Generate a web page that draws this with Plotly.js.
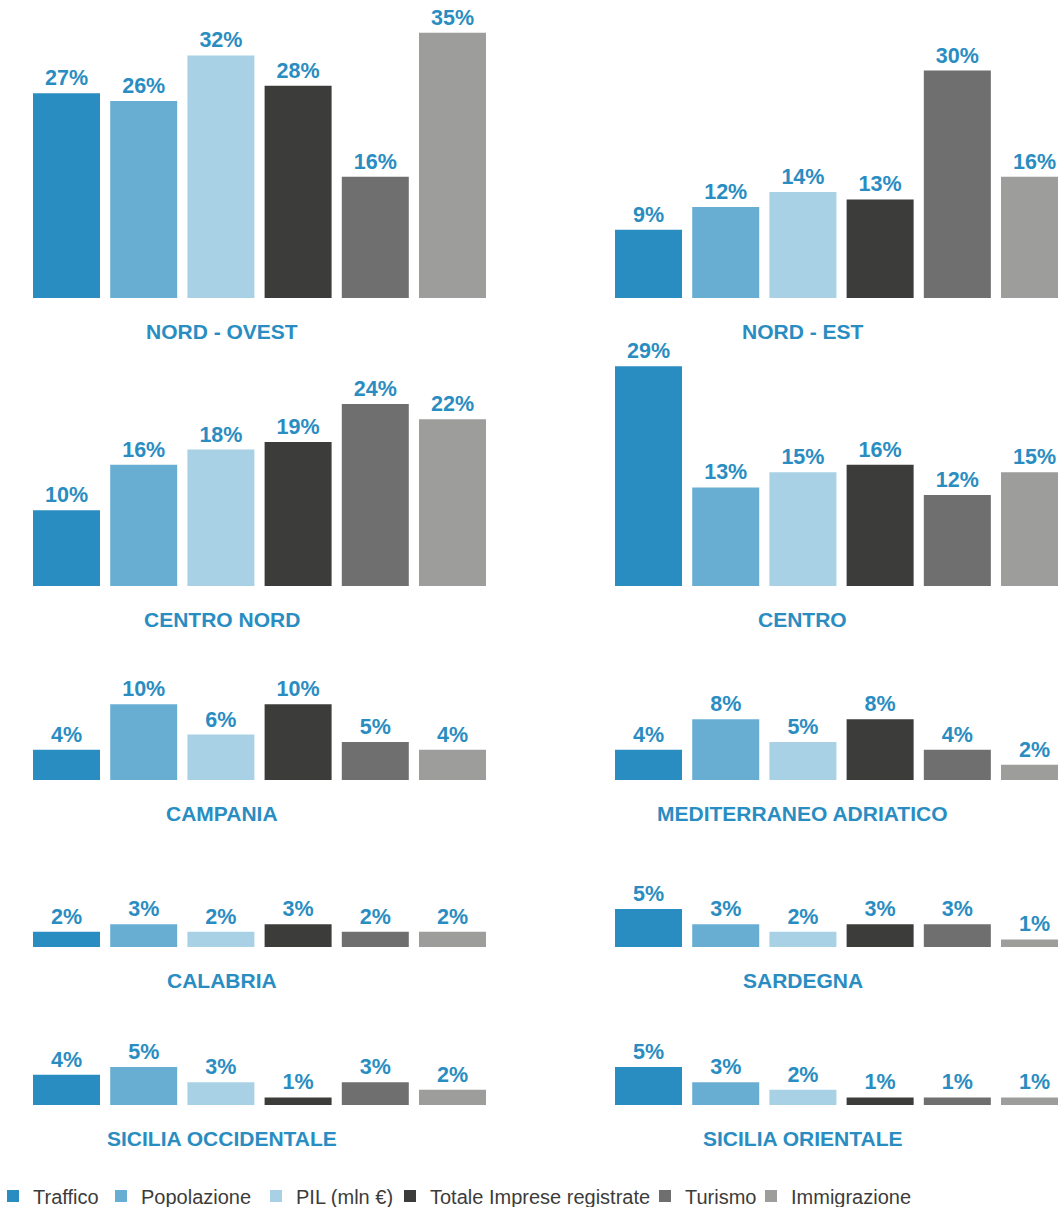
<!DOCTYPE html>
<html>
<head>
<meta charset="utf-8">
<script src="https://cdn.plot.ly/plotly-3.0.1.min.js"></script>
<style>html,body{margin:0;padding:0;background:#fff}#chart{width:1058px;height:1207px}</style>
</head>
<body>
<div id="chart"></div>
<script>
// ---- DATA ----
const series = ["Traffico", "Popolazione", "PIL (mln €)", "Totale Imprese registrate", "Turismo", "Immigrazione"];
const regions = ["NORD - OVEST", "NORD - EST", "CENTRO NORD", "CENTRO", "CAMPANIA", "MEDITERRANEO ADRIATICO", "CALABRIA", "SARDEGNA", "SICILIA OCCIDENTALE", "SICILIA ORIENTALE"];
const nordOvest = [27, 26, 32, 28, 16, 35];
const nordEst = [9, 12, 14, 13, 30, 16];
const centroNord = [10, 16, 18, 19, 24, 22];
const centro = [29, 13, 15, 16, 12, 15];
const campania = [4, 10, 6, 10, 5, 4];
const mediterraneoAdriatico = [4, 8, 5, 8, 4, 2];
const calabria = [2, 3, 2, 3, 2, 2];
const sardegna = [5, 3, 2, 3, 3, 1];
const siciliaOccidentale = [4, 5, 3, 1, 3, 2];
const siciliaOrientale = [5, 3, 2, 1, 1, 1];
const regionValues = [nordOvest, nordEst, centroNord, centro, campania, mediterraneoAdriatico, calabria, sardegna, siciliaOccidentale, siciliaOrientale];

// ---- STYLE ----
const colors = ["#2a8dc2", "#68aed3", "#a9d1e5", "#3c3c3b", "#6f6f6f", "#9d9d9c"];
const blue = "#2a8dc2";
const W = 1058, H = 1207;
const pxPerUnit = 7.58;
const fontFam = "Liberation Sans, Arial, sans-serif";
// row baselines and tops in pixels
const rows = [
  {base: 298, top: 0},
  {base: 586, top: 340},
  {base: 780, top: 640},
  {base: 947, top: 830},
  {base: 1105, top: 1000}
];
const cols = [
  {x0: 27.9, x1: 491.1, r1: 5.5},
  {x0: 609.9, x1: 1058, r1: 5.304}
];
const titleCenters = [221.5, 802.5];
// legend item left positions (pixels)
const legendX = [-7, 101, 256, 390, 645, 751];

const traces = [];
const layout = {
  width: W, height: H,
  margin: {l: 0, r: 0, t: 0, b: 0, autoexpand: false},
  paper_bgcolor: "#fff", plot_bgcolor: "#fff",
  barmode: "overlay",
  showlegend: true,
  hovermode: false,
  font: {family: fontFam},
  annotations: []
};
series.forEach((s, k) => {
  const key = k === 0 ? "legend" : "legend" + (k + 1);
  layout[key] = {
    orientation: "h", x: legendX[k] / W, xanchor: "left",
    y: 1 - 1196 / H, yanchor: "middle",
    font: {size: 20, color: "#3c3c3b", family: fontFam},
    bgcolor: "rgba(0,0,0,0)", borderwidth: 0
  };
});

regionValues.forEach((vals, i) => {
  const r = Math.floor(i / 2), c = i % 2;
  const n = i + 1;
  const suf = n === 1 ? "" : String(n);
  const row = rows[r], col = cols[c];
  layout["xaxis" + suf] = {
    domain: [col.x0 / W, col.x1 / W],
    range: [-0.5, col.r1],
    type: "category", categoryarray: series, categoryorder: "array",
    visible: false, anchor: "y" + suf, fixedrange: true
  };
  layout["yaxis" + suf] = {
    domain: [1 - row.base / H, 1 - row.top / H],
    range: [0, (row.base - row.top) / pxPerUnit],
    visible: false, anchor: "x" + suf, fixedrange: true
  };
  series.forEach((s, k) => {
    traces.push({
      type: "bar",
      x: [s], y: [vals[k]],
      xaxis: "x" + suf, yaxis: "y" + suf,
      name: s, legendgroup: s, showlegend: i === 0,
      legend: k === 0 ? "legend" : "legend" + (k + 1),
      width: 0.868,
      marker: {color: colors[k], line: {width: 0}},
      texttemplate: "%{y}%", textposition: "outside", cliponaxis: false,
      constraintext: "none",
      textfont: {size: 21.5, color: blue, family: fontFam, weight: "bold"},
      hoverinfo: "skip"
    });
  });
  layout.annotations.push({
    text: regions[i], xref: "paper", yref: "paper",
    x: titleCenters[c] / W, y: 1 - (row.base + 33) / H,
    xanchor: "center", yanchor: "middle", showarrow: false,
    font: {size: 21, color: blue, family: fontFam, weight: "bold"}
  });
});

Plotly.newPlot("chart", traces, layout, {displayModeBar: false, staticPlot: true});
</script>
</body>
</html>
